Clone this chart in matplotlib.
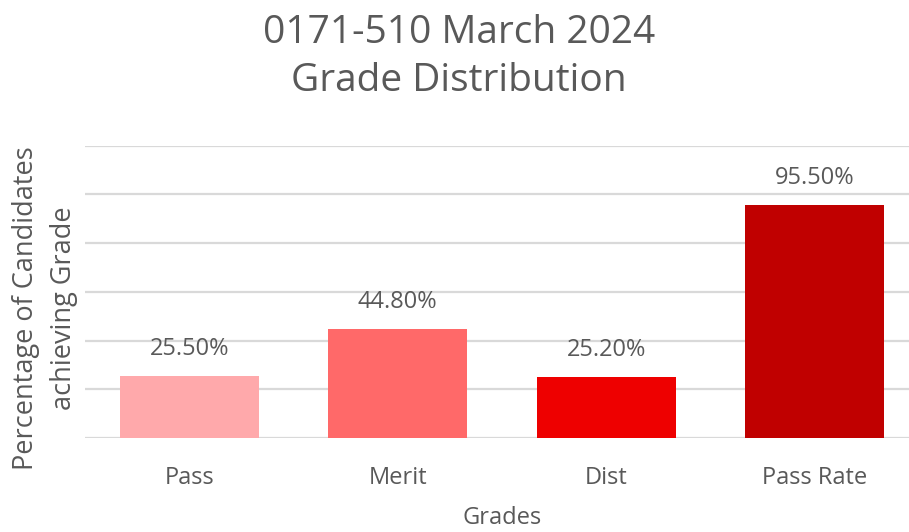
import matplotlib.pyplot as plt

# グラフのデータ
grades = ['Pass', 'Merit', 'Dist', 'Pass Rate']
percentages = [25.5, 44.8, 25.2, 95.5]
bar_colors = ['#FFA9AB', '#FF6969', '#EE0000', '#C00000']
y_gridlines = [0, 20, 40, 60, 80, 100, 120]

plt.rcParams['font.family'] = ['Open Sans', 'DejaVu Sans']
text_color = '#595959'

fig = plt.figure(figsize=(9.09, 5.32), dpi=100)
# 右端は画像の外まではみ出す
ax = fig.add_axes([85 / 909, 94 / 532, 834 / 909, 292.5 / 532])

x = range(len(grades))
bars = ax.bar(x, percentages, width=0.667, color=bar_colors, zorder=3)

# データラベル
for xi, val in zip(x, percentages):
    ax.annotate(f"{val:.2f}%", xy=(xi, val), xytext=(0, 21),
                textcoords='offset pixels', ha='center', va='baseline',
                fontsize=17, color=text_color)

ax.set_xlim(-0.5, len(grades) - 0.5)
ax.set_ylim(0, 120)
ax.set_yticks(y_gridlines)
ax.set_yticklabels([])
ax.tick_params(axis='y', length=0)
ax.tick_params(axis='x', length=0, pad=20, labelsize=17, labelcolor=text_color)
ax.set_xticks(list(x))
ax.set_xticklabels(grades)
ax.grid(axis='y', color='#D9D9D9', linewidth=1.6, zorder=0)
for s in ax.spines.values():
    s.set_visible(False)

ax.set_xlabel('Grades', fontsize=17, color=text_color, labelpad=12)
fig.text(45 / 909, 1 - 308 / 532, 'Percentage of Candidates\nachieving Grade',
         rotation=90, ha='center', va='center', fontsize=19.5,
         color=text_color, linespacing=1.45)

fig.text(459 / 909, 1 - 57 / 532, '0171-510 March 2024\nGrade Distribution',
         ha='center', va='center', fontsize=28, color=text_color,
         linespacing=1.35)

fig.savefig('out.png', dpi=100)
